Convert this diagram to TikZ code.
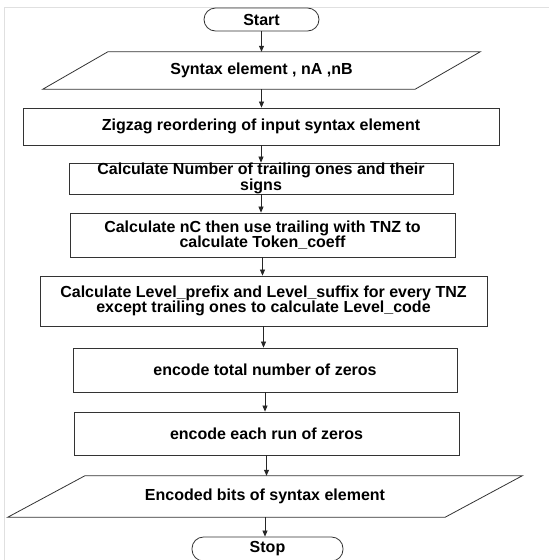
\documentclass[tikz,border=0pt]{standalone}
\usepackage{fontspec}
\setmainfont{Liberation Sans}
\usetikzlibrary{arrows.meta}
\begin{document}
\begin{tikzpicture}[x=1pt,y=-1pt,
  box/.style={draw=black!80, line width=0.8pt, align=center, font=\bfseries\fontsize{16}{15.5}\selectfont, inner sep=0pt},
  term/.style={box, rounded corners=11.5pt},
  io/.style={align=center, font=\bfseries\fontsize{16}{15.5}\selectfont, inner sep=0pt},
  arr/.style={draw=black!85, line width=0.7pt, -{Triangle[length=6pt,width=5pt]}}]
\useasboundingbox (0,0) rectangle (549,560);
\draw[black!12, line width=0.8pt] (4,560) -- (4,7) -- (549,7);
\node[term, minimum width=115pt, minimum height=23pt] (start) at (261.5,19.5) {Start};
\node[io, minimum width=437pt, minimum height=37pt] (in) at (261.5,70.5) {Syntax element , nA ,nB};
\draw[black!80, line width=0.8pt] ([xshift=65pt]in.north west) -- (in.north east) -- ([xshift=-65pt]in.south east) -- (in.south west) -- cycle;
\node[box, minimum width=476pt, minimum height=37pt] (zz) at (261,126.5) {Zigzag reordering of input syntax element};
\node[box, minimum width=384pt, minimum height=31pt] (t1) at (261,178.5) {Calculate Number of trailing ones and their\\signs};
\node[box, minimum width=385pt, minimum height=44pt] (nc) at (262.5,235) {Calculate nC then use trailing with TNZ to\\calculate Token\_coeff};
\node[box, minimum width=447pt, minimum height=50pt] (lv) at (263.5,301) {Calculate Level\_prefix and Level\_suffix for every TNZ\\except trailing ones to calculate Level\_code};
\node[box, minimum width=384pt, minimum height=44pt] (tz) at (265,370) {encode total number of zeros};
\node[box, minimum width=385pt, minimum height=43pt] (rz) at (266.5,433.5) {encode each run of zeros};
\node[io, minimum width=514pt, minimum height=41pt] (out) at (265,496.5) {Encoded bits of syntax element};
\draw[black!80, line width=0.8pt] ([xshift=77pt]out.north west) -- (out.north east) -- ([xshift=-77pt]out.south east) -- (out.south west) -- cycle;
\node[term, minimum width=151pt, minimum height=24pt] (stop) at (267.5,549) {Stop};
\draw[arr] (start.south) -- (start.south |- in.north);
\draw[arr] (in.south) -- (in.south |- zz.north);
\draw[arr] (zz.south) -- (zz.south |- t1.north);
\draw[arr] (t1.south) -- (t1.south |- nc.north);
\draw[arr] (nc.south) -- (nc.south |- lv.north);
\draw[arr] (lv.south) -- (lv.south |- tz.north);
\draw[arr] (tz.south) -- (tz.south |- rz.north);
\draw[arr] (rz.south) -- (rz.south |- out.north);
\draw[arr] (out.south) -- (out.south |- stop.north);
\end{tikzpicture}
\end{document}
